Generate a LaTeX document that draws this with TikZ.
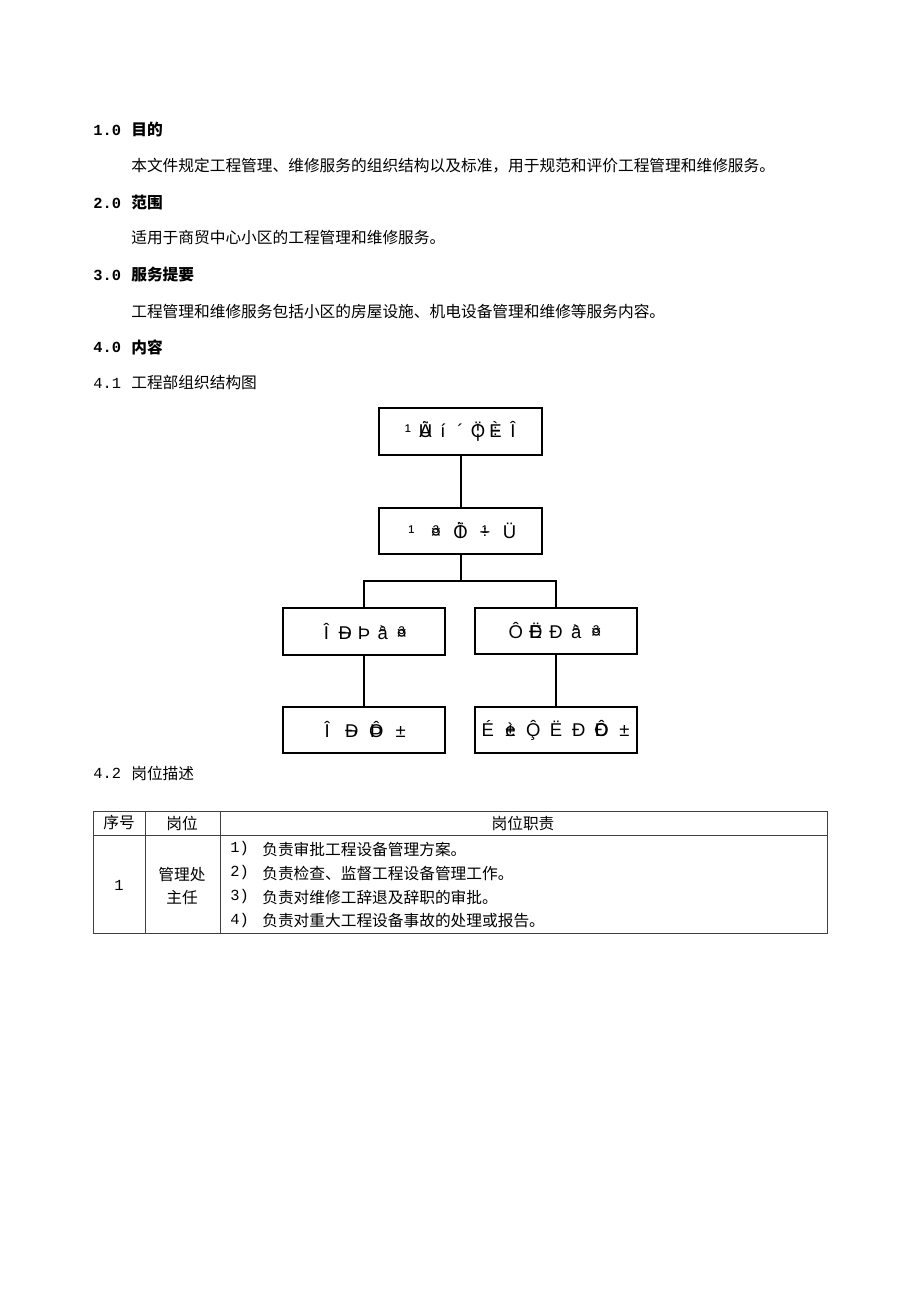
\documentclass[tikz,border=0pt]{standalone}
\usepackage{fontspec}
\usetikzlibrary{positioning}
\newfontfamily\cjk{Noto Sans CJK SC}
\newfontfamily\mono{Liberation Mono}
\newfontfamily\arial{Liberation Sans}
% one cell of the garbled box labels, and two glyphs printed over each other
\newlength\gbw
\newcommand\gb[1]{\makebox[\gbw][c]{#1}}
\newcommand\gbb[2]{\makebox[\gbw][c]{\makebox[0pt]{#1}\makebox[0pt]{#2}}}
\tikzset{
  txt/.style={anchor=west, inner sep=0pt, font=\cjk\fontsize{10.2}{12}\selectfont},
  head/.style={txt, font=\cjk\bfseries\fontsize{10.2}{12}\selectfont},
  num/.style={txt, font=\mono\fontsize{10}{12}\selectfont},
  headnum/.style={txt, font=\mono\bfseries\fontsize{10}{12}\selectfont},
  cell/.style={inner sep=0pt, font=\cjk\fontsize{10.2}{12}\selectfont},
  orgbox/.style={draw, line width=1.3pt, minimum width=37.2mm, minimum height=10.6mm,
    inner sep=0pt, font=\arial\fontsize{12}{14}\selectfont},
  link/.style={line width=1.3pt},
  grid/.style={line width=0.5pt, black!75}
}
\begin{document}
\begin{tikzpicture}[x=0.2283mm, y=-0.2283mm]
\useasboundingbox (0,0) rectangle (920,1302);
% Headings and text
\node[headnum] (n1) at (93,130) {1.0};
\node[head] (h1) at (131,130) {目的};
\node[txt] (p1) at (131,166) {本文件规定工程管理、维修服务的组织结构以及标准，用于规范和评价工程管理和维修服务。};
\node[headnum] (n2) at (93,203) {2.0};
\node[head] (h2) at (131,203) {范围};
\node[txt] (p2) at (131,238) {适用于商贸中心小区的工程管理和维修服务。};
\node[headnum] (n3) at (93,275) {3.0};
\node[head] (h3) at (131,275) {服务提要};
\node[txt] (p3) at (131,311) {工程管理和维修服务包括小区的房屋设施、机电设备管理和维修等服务内容。};
\node[headnum] (n4) at (93,347) {4.0};
\node[head] (h4) at (131,347) {内容};
\node[num] (n41) at (93,383) {4.1};
\node[txt] (s41) at (131,383) {工程部组织结构图};

% Org chart boxes
\node[orgbox] (zr) at (460.5,431.5) {\setlength\gbw{4mm}\gb{¹}\gbb{Ü}{À}\gb{í}\gb{´}\gbb{¦}{Ö}\gbb{÷}{È}\gb{Î}};
\node[orgbox] (zg) at (460.5,531) {\setlength\gbw{5.6mm}\gb{¹}\gbb{¤}{³}\gbb{Ì}{Ö}\gbb{÷}{¹}\gb{Ü}};
\node[orgbox] (wx) at (364,631.5) {\setlength\gbw{4.3mm}\gb{Î}\gbb{¬}{Ð}\gb{Þ}\gbb{°}{à}\gbb{³}{¤}};
\node[orgbox] (yx) at (556,631) {\setlength\gbw{4.6mm}\gb{Ô}\gbb{Ë}{Ð}\gb{Ð}\gbb{°}{à}\gbb{³}{¤}};
\node[orgbox] (wy) at (364,730) {\setlength\gbw{5.6mm}\gb{Î}\gbb{¬}{Ð}\gbb{Þ}{Ô}\gb{±}};
\node[orgbox] (yy) at (556,730) {\setlength\gbw{5.2mm}\gb{É}\gbb{è}{±}\gbb{¸}{Ô}\gb{Ë}\gb{Ð}\gbb{Ð}{Ô}\gb{±}};
% Connectors
\coordinate (fork) at (460.5,581);
\draw[link] (zr) -- (zg);
\draw[link] (zg) -- (fork);
\draw[link] (fork) -| (wx.north);
\draw[link] (fork) -| (yx.north);
\draw[link] (wx) -- (wy);
\draw[link] (yx) -- (yy);

% Job description table
\node[num] (n42) at (93,773) {4.2};
\node[txt] (s42) at (131,773) {岗位描述};
\draw[grid] (93,811) rectangle (827,933);
\draw[grid] (93,835) -- (827,835);
\draw[grid] (145,811) -- (145,933);
\draw[grid] (220,811) -- (220,933);
\node[cell] (c11) at (119,823) {序号};
\node[cell] (c12) at (182,823) {岗位};
\node[cell] (c13) at (523,823) {岗位职责};
\node[cell, font=\mono\fontsize{10}{12}\selectfont] (c21) at (119,885) {1};
\node[cell] (c22a) at (182,874) {管理处};
\node[cell] (c22b) at (182,898) {主任};
\node[num] (k1) at (230,849) {1)};
\node[txt] (d1) at (262,849) {负责审批工程设备管理方案。};
\node[num] (k2) at (230,873) {2)};
\node[txt] (d2) at (262,873) {负责检查、监督工程设备管理工作。};
\node[num] (k3) at (230,897) {3)};
\node[txt] (d3) at (262,897) {负责对维修工辞退及辞职的审批。};
\node[num] (k4) at (230,921) {4)};
\node[txt] (d4) at (262,921) {负责对重大工程设备事故的处理或报告。};
\end{tikzpicture}
\end{document}
